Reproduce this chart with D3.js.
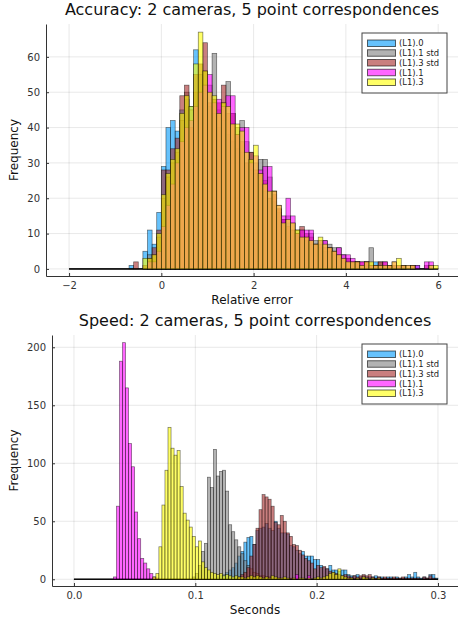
<!DOCTYPE html>
<html>
<head>
<meta charset="utf-8">
<title>Accuracy and speed histograms</title>
<style>
  body { margin: 0; background: #fff; }
  text { font-family: "DejaVu Sans", sans-serif; }
</style>
</head>
<body>
<svg id="chart" width="458" height="621"></svg>
<script src="https://d3js.org/d3.v7.min.js"></script>
<script>
const seriesNames = ["(L1).0", "(L1).1 std", "(L1).3 std", "(L1).1", "(L1).3"]
const seriesColors = ["#009afa", "#808080", "#a52a2a", "#ff00ff", "#ffff00"]

// accuracy histogram: bins of 0.1, first bin starts at -0.7
const accBinStart = -0.7
const accBinWidth = 0.1
const accRange = [-2, 6]
const accL10 = [1,0,0,5,11,7,16,29,40,42,39,45,48,46,62,50,52,46,44,40,42,38,36,34,33,30,28,27,24,22,20,19,16,14,13,11,10,9,8,7,7,6,5,5,4,4,3,3,2,2,1,1,1,2,1,1,0,1,0,1,0,0,1,0,0,0,0]
const accL11std = [0,0,0,0,4,4,9,20,26,30,33,42,50,45,50,55,56,52,61,45,47,53,44,40,42,36,33,30,31,31,26,22,17,14,15,13,11,11,9,10,8,8,8,7,6,6,4,3,2,2,1,2,6,1,2,1,1,1,0,1,0,1,0,0,0,1,0]
const accL13std = [0,2,0,1,3,6,11,28,28,34,37,49,52,40,55,58,64,47,48,47,52,44,44,38,36,30,33,28,27,25,20,21,17,14,12,11,10,12,10,9,7,7,6,6,5,4,3,3,2,2,2,2,1,1,2,2,1,1,1,1,0,1,0,0,1,0,0]
const accL11 = [0,0,0,0,2,2,5,12,18,24,30,36,40,42,46,50,52,55,47,48,46,49,49,38,40,40,30,32,28,29,29,22,18,15,20,15,10,11,11,11,7,8,8,6,5,6,4,4,3,2,2,2,1,1,1,2,1,2,1,1,1,1,1,0,2,2,0]
const accL13 = [0,0,0,3,3,4,10,21,27,31,34,44,49,46,58,67,56,50,49,44,47,46,41,41,39,33,31,35,27,24,22,22,18,13,14,13,11,9,9,8,7,9,7,6,5,4,3,2,2,2,1,2,2,1,1,1,1,2,3,1,1,1,0,0,0,1,1]
const accXTicks = [-2, 0, 2, 4, 6]
const accYTicks = [0, 10, 20, 30, 40, 50, 60]

// speed histogram: bins of 0.0025 s, first bin starts at 0.0325
const speedBinStart = 0.0325
const speedBinWidth = 0.0025
const speedRange = [0, 0.3]
const speedL10 = [0,0,0,0,0,0,0,0,0,0,0,0,0,0,0,0,0,0,0,0,0,0,0,0,0,0,0,0,0,0,0,0,0,0,2,3,4,6,8,10,14,20,24,32,36,37,30,42,44,45,48,44,42,50,44,40,40,39,29,28,25,22,24,20,20,20,17,17,12,10,9,12,8,8,7,8,8,4,3,3,4,2,3,2,2,2,3,2,2,1,2,2,1,2,1,1,2,4,2,6,2,1,2,1,4,4,1]
const speedL11std = [0,0,0,0,0,0,0,0,0,0,0,0,0,0,0,0,0,0,0,0,0,0,0,0,0,0,2,5,12,24,31,88,79,112,89,93,94,76,47,41,34,28,22,16,12,9,6,5,3,3,2,2,1,1,1,0,1,0,1,0,0,0,0,0,0,0,0,0,0,0,0,0,0,0,0,0,0,0,0,0,0,0,0,0,0,0,0,0,0,0,0,0,0,0,0,0,0,0,0,0,0,0,0,0,0,0,0]
const speedL13std = [0,0,0,0,0,0,0,0,0,0,0,0,0,0,0,0,0,0,0,0,0,0,0,0,0,0,0,0,0,0,0,0,0,0,0,0,0,0,0,0,0,2,4,6,10,20,30,44,60,73,71,69,63,49,47,55,50,40,37,30,29,25,21,18,16,14,9,12,10,11,9,7,6,5,4,3,4,3,2,3,2,3,4,3,4,2,1,2,1,2,1,1,2,1,1,2,1,1,1,1,1,0,2,1,3,1,0]
const speedL11 = [2,63,188,204,165,117,97,58,35,18,14,9,5,2,1,0,0,0,0,0,0,0,0,0,0,0,0,0,0,0,0,0,0,0,0,0,0,0,0,0,0,0,0,0,0,0,0,0,0,0,0,0,0,0,0,0,0,0,0,0,4,0,0,0,3,0,0,0,0,1,0,0,0,0,0,0,0,1,0,0,0,0,0,0,0,0,0,0,0,0,0,0,0,0,0,0,0,0,0,0,0,0,0,0,0,0,0]
const speedL13 = [0,0,0,0,0,0,0,0,0,0,0,0,0,2,5,28,64,94,131,113,107,111,80,57,51,45,37,28,33,15,10,8,6,5,4,5,3,4,3,2,3,2,2,1,2,3,2,3,2,1,2,1,3,2,1,1,2,1,0,1,0,1,1,0,1,0,1,2,1,2,3,5,6,4,9,3,2,1,1,0,1,0,2,1,0,1,0,1,0,0,0,0,0,0,0,0,0,0,0,0,0,0,0,0,0,0,0]
const speedXTicks = [0, 0.1, 0.2, 0.3]
const speedYTicks = [0, 50, 100, 150, 200]

const panels = [
    {
        title: "Accuracy: 2 cameras, 5 point correspondences",
        xLabel: "Relative error",
        series: [accL10, accL11std, accL13std, accL11, accL13],
        binStart: accBinStart, binWidth: accBinWidth, range: accRange,
        xTicks: accXTicks, yTicks: accYTicks, xFormat: d3.format("d"),
        xDomain: [-2.5, 6.43], yDomain: [-2, 69.3],
        left: 46, right: 458, top: 24, bottom: 276
    },
    {
        title: "Speed: 2 cameras, 5 point correspondences",
        xLabel: "Seconds",
        series: [speedL10, speedL11std, speedL13std, speedL11, speedL13],
        binStart: speedBinStart, binWidth: speedBinWidth, range: speedRange,
        xTicks: speedXTicks, yTicks: speedYTicks, xFormat: d3.format(".1f"),
        xDomain: [-0.0181, 0.3165], yDomain: [-5.8, 210.6],
        left: 52, right: 458, top: 335, bottom: 586
    }
]

const svg = d3.select("#chart")

const drawPanel = (p) => {
    const x = d3.scaleLinear().domain(p.xDomain).range([p.left, p.right])
    const y = d3.scaleLinear().domain(p.yDomain).range([p.bottom, p.top])
    const g = svg.append("g")

    // grid
    g.append("g")
        .selectAll("line")
        .data(p.xTicks)
        .join("line")
        .attr("x1", d => x(d)).attr("x2", d => x(d))
        .attr("y1", p.top).attr("y2", p.bottom)
        .attr("stroke", "#000").attr("stroke-opacity", 0.09)
    g.append("g")
        .selectAll("line")
        .data(p.yTicks)
        .join("line")
        .attr("x1", p.left).attr("x2", p.right)
        .attr("y1", d => y(d)).attr("y2", d => y(d))
        .attr("stroke", "#000").attr("stroke-opacity", 0.09)

    // bars, one group per series, in legend order
    p.series.forEach((counts, s) => {
        g.append("line")
            .attr("x1", x(p.range[0])).attr("x2", x(p.range[1]))
            .attr("y1", y(0)).attr("y2", y(0))
            .attr("stroke", "#000").attr("stroke-opacity", 0.6)
        g.append("g")
            .attr("fill", seriesColors[s])
            .attr("fill-opacity", 0.6)
            .attr("stroke", "#000")
            .attr("stroke-opacity", 0.55)
            .attr("stroke-width", 0.7)
            .selectAll("rect")
            .data(counts.map((c, i) => ({c, x0: p.binStart + i * p.binWidth})).filter(d => d.c > 0))
            .join("rect")
            .attr("x", d => x(d.x0))
            .attr("width", d => x(d.x0 + p.binWidth) - x(d.x0))
            .attr("y", d => y(d.c))
            .attr("height", d => y(0) - y(d.c))
    })

    // axes
    const xAxis = g.append("g")
        .attr("transform", `translate(0,${p.bottom})`)
        .call(d3.axisBottom(x).tickValues(p.xTicks).tickFormat(p.xFormat).tickSize(-3).tickSizeOuter(0).tickPadding(6))
    const yAxis = g.append("g")
        .attr("transform", `translate(${p.left},0)`)
        .call(d3.axisLeft(y).tickValues(p.yTicks).tickSize(-3).tickSizeOuter(0).tickPadding(6))
    ;[xAxis, yAxis].forEach(a => {
        a.select(".domain").attr("stroke", "#333").attr("stroke-width", 1)
        a.selectAll(".tick line").attr("stroke", "#333")
        a.selectAll(".tick text")
            .attr("font-family", "DejaVu Sans, sans-serif")
            .attr("font-size", 10)
            .attr("fill", "#333")
    })

    // titles
    g.append("text")
        .attr("x", (p.left + p.right) / 2)
        .attr("y", p.top - 9)
        .attr("text-anchor", "middle")
        .attr("font-size", 16)
        .attr("fill", "#111")
        .text(p.title)
    g.append("text")
        .attr("x", (p.left + p.right) / 2)
        .attr("y", p.bottom + 28)
        .attr("text-anchor", "middle")
        .attr("font-size", 12)
        .attr("fill", "#111")
        .text(p.xLabel)
    g.append("text")
        .attr("transform", `translate(18,${(p.top + p.bottom) / 2}) rotate(-90)`)
        .attr("text-anchor", "middle")
        .attr("font-size", 12)
        .attr("fill", "#111")
        .text("Frequency")

    // legend
    const lg = g.append("g")
        .attr("transform", `translate(${p.right - 96},${p.top + 9})`)
    lg.append("rect")
        .attr("width", 85).attr("height", 60)
        .attr("fill", "#fff")
        .attr("stroke", "#444")
    const item = lg.selectAll("g")
        .data(seriesNames)
        .join("g")
        .attr("transform", (d, i) => `translate(0,${7 + i * 9.75})`)
    item.append("rect")
        .attr("x", 5.5).attr("width", 28).attr("height", 6.5)
        .attr("fill", (d, i) => seriesColors[i])
        .attr("fill-opacity", 0.6)
        .attr("stroke", "#000").attr("stroke-opacity", 0.6)
    item.append("text")
        .attr("x", 37).attr("y", 3.3).attr("dy", "0.35em")
        .attr("font-size", 8.4)
        .attr("fill", "#222")
        .text(d => d)
}

panels.forEach(drawPanel)
</script>
</body>
</html>
